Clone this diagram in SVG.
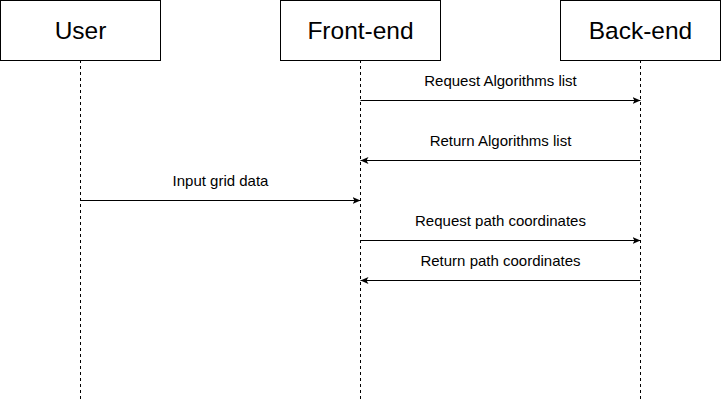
<svg xmlns="http://www.w3.org/2000/svg" width="721" height="402" viewBox="0 0 721 402">
<style>
.box{fill:#fff;stroke:#000;stroke-width:1}
.life{stroke:#000;stroke-width:1;stroke-dasharray:3 3;fill:none}
.msg{stroke:#000;stroke-width:1;fill:none;marker-end:url(#arr)}
.hd{font-family:"Liberation Sans",Arial,sans-serif;font-size:24.5px;text-anchor:middle;fill:#000}
.lb{font-family:"Liberation Sans",Arial,sans-serif;font-size:15px;text-anchor:middle;fill:#000}
</style>
<defs>
<marker id="arr" markerWidth="10" markerHeight="10" refX="8" refY="4" orient="auto" markerUnits="userSpaceOnUse">
<path d="M0,0.5 L8,4 L0,7.5 L2,4 Z" fill="#000"/>
</marker>
</defs>
<rect width="721" height="402" fill="#fff"/>
<g id="lifelines">
<line class="life" x1="80.5" y1="60" x2="80.5" y2="402"/>
<line class="life" x1="360.5" y1="60" x2="360.5" y2="402"/>
<line class="life" x1="640.5" y1="60" x2="640.5" y2="402"/>
</g>
<g id="user">
<rect class="box" x="0.5" y="0.5" width="160" height="60"/>
<text class="hd" x="80.5" y="39">User</text>
</g>
<g id="frontend">
<rect class="box" x="280.5" y="0.5" width="160" height="60"/>
<text class="hd" x="360.5" y="39">Front-end</text>
</g>
<g id="backend">
<rect class="box" x="560.5" y="0.5" width="160" height="60"/>
<text class="hd" x="640.5" y="39">Back-end</text>
</g>
<g id="connectors">
<line class="msg" x1="360.5" y1="100.5" x2="640.5" y2="100.5"/>
<text class="lb" x="500.5" y="86">Request Algorithms list</text>
<line class="msg" x1="640.5" y1="160.5" x2="360.5" y2="160.5"/>
<text class="lb" x="500.5" y="146">Return Algorithms list</text>
<line class="msg" x1="80.5" y1="200.5" x2="360.5" y2="200.5"/>
<text class="lb" x="220.5" y="186">Input grid data</text>
<line class="msg" x1="360.5" y1="240.5" x2="640.5" y2="240.5"/>
<text class="lb" x="500.5" y="226">Request path coordinates</text>
<line class="msg" x1="640.5" y1="280.5" x2="360.5" y2="280.5"/>
<text class="lb" x="500.5" y="266">Return path coordinates</text>
</g>
</svg>
